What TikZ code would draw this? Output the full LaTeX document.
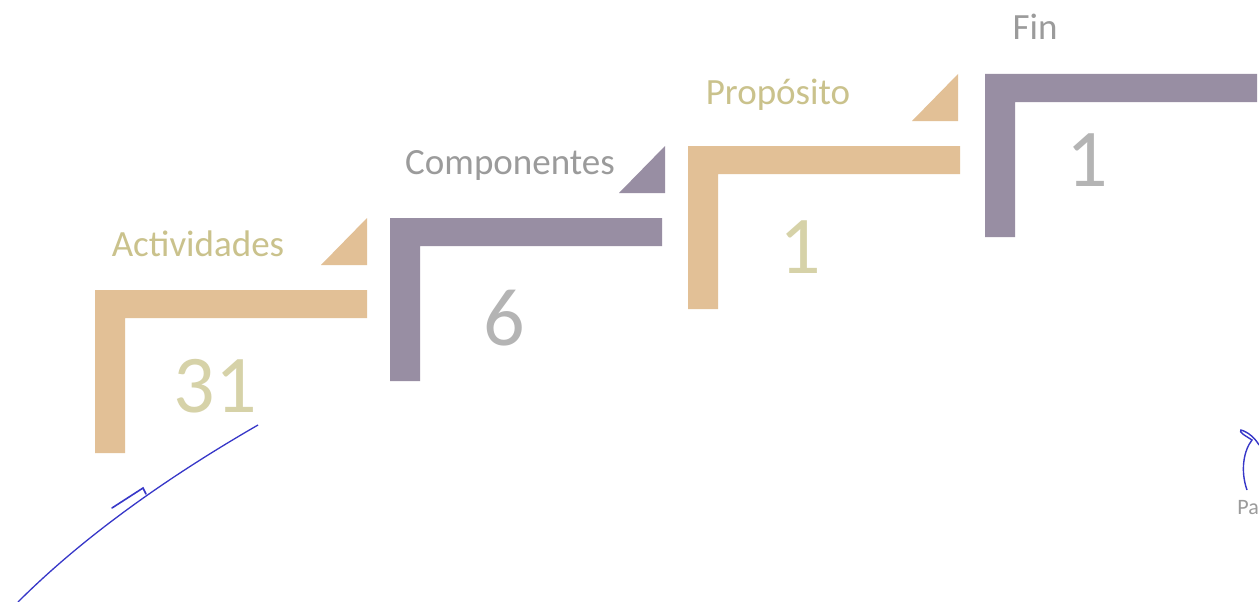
\documentclass[tikz,border=0pt]{standalone}
\usepackage{fontspec}
\setmainfont{Carlito}

\definecolor{marron}{RGB}{226,192,150}
\definecolor{lila}{RGB}{152,142,163}
\definecolor{caqui}{RGB}{202,194,140}
\definecolor{caquiclaro}{RGB}{214,210,168}
\definecolor{gris}{RGB}{155,155,155}
\definecolor{tinta}{RGB}{55,55,200}

\begin{document}
\begin{tikzpicture}[x=1pt,y=-1pt,
    etiqueta/.style={font=\fontsize{37}{37}\selectfont},
    cifra/.style={font=\fontsize{82}{82}\selectfont}]

\useasboundingbox[fill=white] (0,0) rectangle (1259,602);

% Escalones
\foreach \x/\y/\col in {95/290/marron,390/218/lila,688/146/marron,985/74/lila}
{
    \fill[\col]
    (\x,\y) --
    ({\x+272},\y) --
    ({\x+272},{\y+28}) --
    ({\x+30},{\y+28}) --
    ({\x+30},{\y+163}) --
    (\x,{\y+163}) --
    cycle;
}

% Triangulos
\foreach \x/\y/\col in {367/290/marron,665/218/lila,958/146/marron}
{
    \fill[\col]
    (\x,{\y-72}) --
    (\x,{\y-25}) --
    ({\x-46},{\y-25}) --
    cycle;
}

% Etiquetas
\node[etiqueta,text=caqui] (act) at (198,244) {Actividades};
\node[etiqueta,text=gris] (comp) at (510,165) {Componentes};
\node[etiqueta,text=caqui] (prop) at (778,95) {Propósito};
\node[etiqueta,text=gris] (fin) at (1035,27) {Fin};

% Cantidades
\node[cifra,text=caquiclaro] (nact) at (215,386) {31};
\node[cifra,text=gris!75] (ncomp) at (504,318) {6};
\node[cifra,text=caquiclaro] (nprop) at (800,247) {1};
\node[cifra,text=gris!75] (nfin) at (1087,160) {1};

% Trazos de tinta
\draw[tinta,line width=1.3pt]
(18,602) ..
controls (90,530) and (180,470) ..
(258,425);

\draw[tinta,line width=1.6pt,line cap=round]
(112,508) --
(143,488) --
(146,494);

\draw[tinta,line width=1.4pt]
(1247,490) ..
controls (1240,470) and (1244,450) ..
(1252,440) ..
controls (1246,436) and (1238,432) ..
(1241,430) ..
controls (1248,432) and (1255,438) ..
(1259,445);

\node[text=gris,font=\fontsize{22}{22}\selectfont,anchor=east,inner sep=0pt] (pa) at (1259,508) {Pa};

\end{tikzpicture}
\end{document}
